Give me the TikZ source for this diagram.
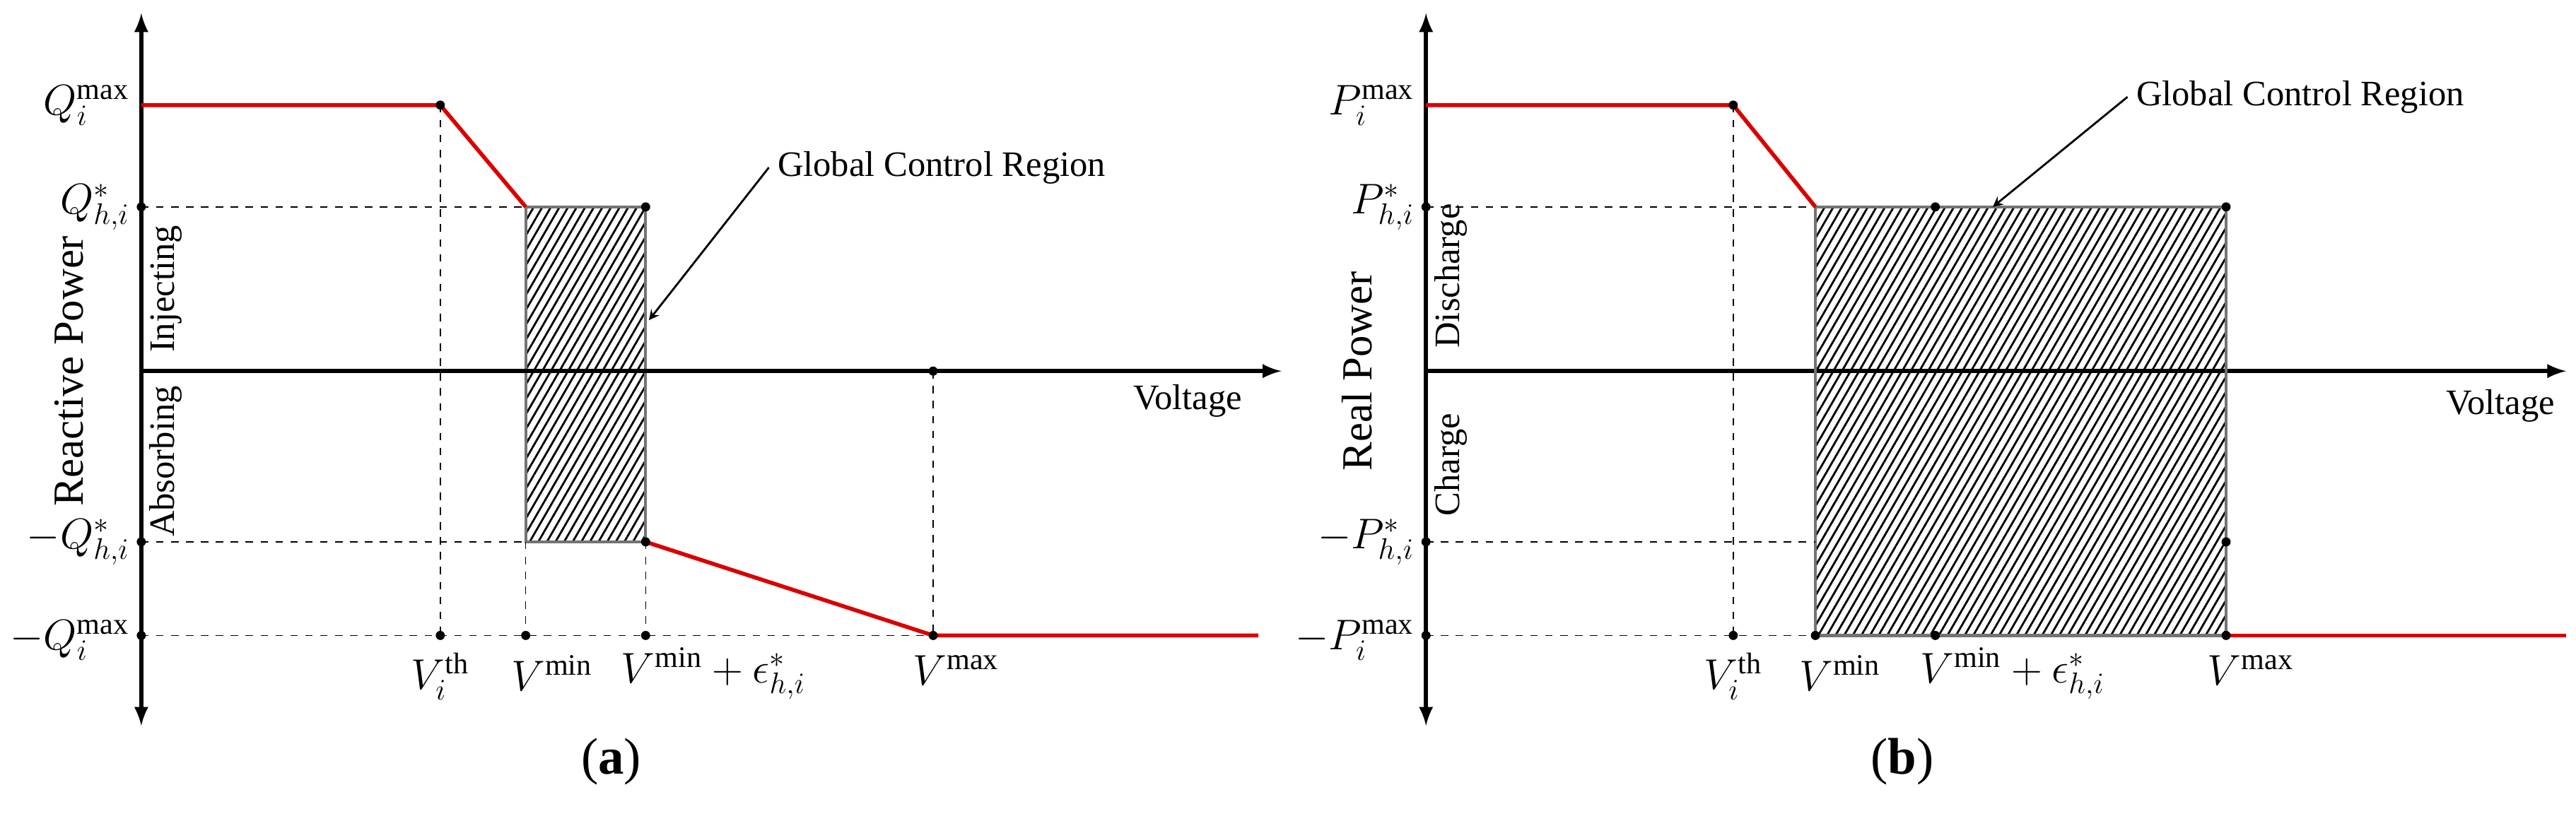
\documentclass[tikz,border=0pt]{standalone}
\usepackage{fontspec}
\setmainfont{Liberation Serif}
\usetikzlibrary{positioning,patterns.meta}
\tikzset{axis/.style={line width=1.6pt,-latex},
         curve/.style={red!85!black,line width=1.6pt},
         guide/.style={dashed,thin},
         region/.style={draw=black!55,line width=1.2pt,pattern={Lines[angle=60,distance=3pt,line width=0.8pt]}},
         dot/.style={circle,fill,inner sep=1.3pt},
         lbl/.style={font=\LARGE,inner sep=0.5pt},
         side/.style={rotate=90,font=\Large,inner sep=0.5pt}
}
\tikzstyle{arrow} = [thick,->,>=stealth]

\begin{document}
\begin{tikzpicture}[x=0.02324cm,y=-0.02324cm]
\useasboundingbox (0,0) rectangle (1568,507.3);

% panel (a)
\coordinate (qtop) at (86,8);
\coordinate (qbot) at (86,442);
\coordinate (qo) at (86,226);
\coordinate (qend) at (780,226);
\draw[axis] (qo)--(qtop);
\draw[axis] (qo)--(qbot);
\draw[region] (320,126) rectangle (393,330);
\draw[axis] (qo)--(qend);
\coordinate (qa) at (268,64);
\coordinate (qb) at (320,126);
\coordinate (qc) at (393,330);
\coordinate (qd) at (568,387);
\draw[guide] (86,126)--(qb) (86,330)--(320,330) (86,387)--(qd);
\draw[guide] (qa)--(268,387) (320,330)--(320,387) (qc)--(393,387) (568,226)--(qd);
\draw[curve] (86,64)--(qa)--(qb);
\draw[curve] (qc)--(qd)--(766,387);
\foreach \p in {(86,126),(86,330),(86,387),(268,64),(268,387),(320,387),(393,387),(568,226),(568,387),(393,126),(393,330)}
  \node[dot] at \p {};
\node[lbl,left=4pt of {(86,64)}] (qmax) {$Q_i^{\max}$};
\node[lbl,left=4pt of {(86,126)}] (qstar) {$Q_{h,i}^*$};
\node[lbl,left=4pt of {(86,330)}] (mqstar) {$-Q_{h,i}^*$};
\node[lbl,left=4pt of {(86,390)}] (mqmax) {$-Q_i^{\max}$};
\node[lbl] (vth) at (268,412) {$V_i^{\mathrm{th}}$};
\node[lbl] (vmin) at (336,410) {$V^{\min}$};
\node[lbl,anchor=west] (veps) at (377,410) {$V^{\min}+\epsilon_{h,i}^*$};
\node[lbl] (vmax) at (582,408) {$V^{\max}$};
\node[font=\Large] (volt) at (723,244) {Voltage};
\node[side,font=\LARGE] (react) at (42,226) {Reactive Power};
\node[side] (inj) at (101,176) {Injecting};
\node[side] (abs) at (101,281) {Absorbing};
\node[font=\Large,anchor=west] (gcra) at (468,102) {Global Control Region};
\draw[arrow] (gcra.west)--(395,195);
\node[font=\huge] (capa) at (372,464) {(\textbf{a})};

% panel (b)
\coordinate (ptop) at (868,8);
\coordinate (pbot) at (868,442);
\coordinate (po) at (868,226);
\coordinate (pend) at (1562,226);
\draw[axis] (po)--(ptop);
\draw[axis] (po)--(pbot);
\draw[axis] (po)--(pend);
\draw[region] (1105,126) rectangle (1355,387);
\coordinate (pa) at (1055,64);
\coordinate (pb) at (1105,126);
\coordinate (pd) at (1355,387);
\draw[guide] (868,126)--(pb) (868,330)--(1105,330) (868,387)--(1105,387);
\draw[guide] (pa)--(1055,387);
\draw[curve] (868,64)--(pa)--(pb);
\draw[curve] (pd)--(1562,387);
\foreach \p in {(868,126),(868,330),(868,387),(1055,64),(1055,387),(1105,387),(1178,126),(1178,387),(1355,126),(1355,330),(1355,387)}
  \node[dot] at \p {};
\node[lbl,left=4pt of {(868,64)}] (pmax) {$P_i^{\max}$};
\node[lbl,left=4pt of {(868,126)}] (pstar) {$P_{h,i}^*$};
\node[lbl,left=4pt of {(868,330)}] (mpstar) {$-P_{h,i}^*$};
\node[lbl,left=4pt of {(868,390)}] (mpmax) {$-P_i^{\max}$};
\node[lbl] (vthb) at (1055,412) {$V_i^{\mathrm{th}}$};
\node[lbl] (vminb) at (1120,410) {$V^{\min}$};
\node[lbl] (vepsb) at (1225,410) {$V^{\min}+\epsilon_{h,i}^*$};
\node[lbl] (vmaxb) at (1370,408) {$V^{\max}$};
\node[font=\Large] (voltb) at (1522,247) {Voltage};
\node[side,font=\LARGE] (real) at (826,226) {Real Power};
\node[side] (dis) at (883,168) {Discharge};
\node[side] (chg) at (883,283) {Charge};
\node[font=\Large,anchor=west] (gcrb) at (1295,59) {Global Control Region};
\draw[arrow] (gcrb.west)--(1213,126);
\node[font=\huge] (capb) at (1158,464) {(\textbf{b})};
\end{tikzpicture}
\end{document}
